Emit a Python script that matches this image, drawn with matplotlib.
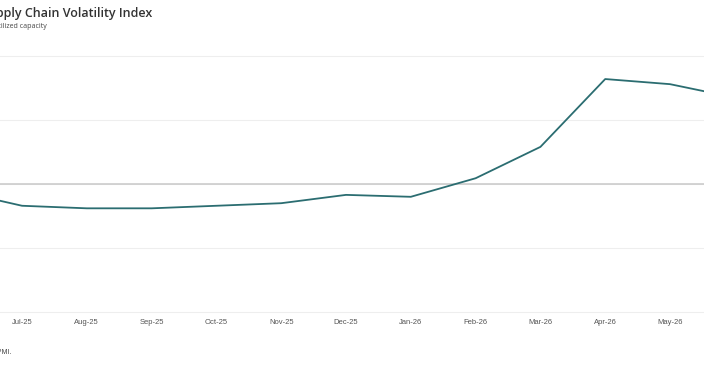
import matplotlib.pyplot as plt

## data
months = ['Jun-25', 'Jul-25', 'Aug-25', 'Sep-25', 'Oct-25', 'Nov-25', 'Dec-25',
          'Jan-26', 'Feb-26', 'Mar-26', 'Apr-26', 'May-26', 'Jun-26']
index_values = [-0.11, -0.34, -0.38, -0.38, -0.34, -0.30, -0.17,
                -0.20, 0.09, 0.58, 1.64, 1.56, 1.35]
y_ticks = [-2, -1, 0, 1, 2]

fig = plt.figure(figsize=(7.04, 3.69), dpi=100)
# the axes run past both edges of the figure (reference is a crop)
ax = fig.add_axes([-0.1068, 0.1458, 1.1966, 0.7111])

x = list(range(len(months)))
ax.plot(x, index_values, color='#2b6d71', linewidth=1.3, zorder=3)

ax.set_xlim(-0.5, 12.5)
ax.set_ylim(-2.05, 2.05)
ax.set_yticks(y_ticks)
ax.set_xticks(x)
ax.set_xticklabels(months, fontsize=5.5, color='#555555', family='Liberation Sans')
ax.tick_params(axis='x', length=0, pad=2.5)
ax.tick_params(axis='y', length=0, labelleft=False)
ax.grid(axis='y', color='#eeeeee', linewidth=0.8)
ax.axhline(0, color='#cccccc', linewidth=1.2, zorder=2)
for s in ax.spines.values():
    s.set_visible(False)

fig.text(152 / 704, 1 - 14 / 369, 'Supply Chain Volatility Index', ha='right', va='center',
         fontsize=9, fontweight='semibold', family='Open Sans', color='#333333')
fig.text(47 / 704, 1 - 27 / 369, 'Index, % of utilized capacity', ha='right', va='center',
         fontsize=5, family='Open Sans', color='#444444')
fig.text(11 / 704, 1 - 352 / 369, 'Source: S&P Global PMI.', ha='right', va='center',
         fontsize=5, family='Liberation Sans', color='#444444')

fig.savefig('out.png', dpi=100)
